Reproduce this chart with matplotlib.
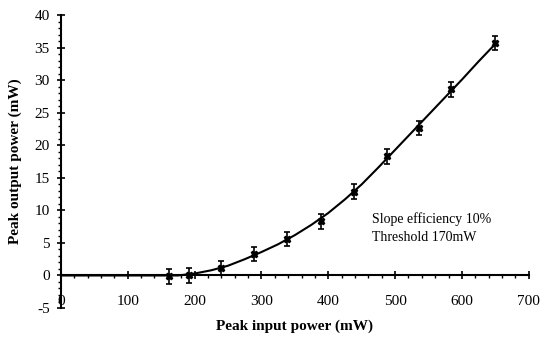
import matplotlib
matplotlib.use('Agg')
import matplotlib.pyplot as plt
from matplotlib.ticker import MultipleLocator

plt.rcParams['font.family'] = ['Liberation Serif', 'DejaVu Serif']
plt.rcParams['axes.unicode_minus'] = False

p_in = [162, 192, 240, 289, 338, 389, 438, 488, 536, 584, 650]
p_out = [-0.15, 0.0, 1.2, 3.3, 5.65, 8.3, 12.9, 18.3, 22.7, 28.6, 35.75]
p_err = [1.1] * len(p_in)

# fitted curve as drawn
fit_in = [0, 175, 200, 225, 250, 275, 300, 325, 350, 375, 400, 425, 450,
          475, 500, 525, 550, 575, 600, 625, 652]
fit_out = [0, 0, 0.3, 0.8, 1.5, 2.5, 3.6, 4.8, 6.2, 7.8, 9.6, 11.7, 14.0,
           16.6, 19.3, 22.0, 24.7, 27.4, 30.1, 32.9, 35.8]

x_ticks = [0, 100, 200, 300, 400, 500, 600, 700]
y_ticks = [-5, 0, 5, 10, 15, 20, 25, 30, 35, 40]

fig = plt.figure(figsize=(5.44, 3.37), dpi=100)
ax = fig.add_axes([0.112, 0.086, 0.860, 0.869])

ax.plot(fit_in, fit_out, color='black', lw=1.5)
ax.errorbar(p_in, p_out, yerr=p_err, fmt='X', color='black', ms=5,
            elinewidth=1.2, capsize=2, capthick=1.2)

ax.set_xlim(0, 700)
ax.set_ylim(-5, 40)
ax.set_xticks(x_ticks)
ax.set_yticks(y_ticks)
ax.xaxis.set_minor_locator(MultipleLocator(20))
ax.yaxis.set_minor_locator(MultipleLocator(1))

ax.spines['top'].set_visible(False)
ax.spines['right'].set_visible(False)
ax.spines['bottom'].set_position(('data', 0))
ax.spines['left'].set_linewidth(1.5)
ax.spines['bottom'].set_linewidth(1.5)

ax.tick_params(axis='x', which='major', direction='inout', length=6, width=1.2,
               pad=11, labelsize=11)
ax.tick_params(axis='x', which='minor', direction='out', length=2.5, width=1)
ax.tick_params(axis='y', which='major', direction='inout', length=6, width=1.2,
               pad=5, labelsize=11)
ax.tick_params(axis='y', which='minor', direction='out', length=2.5, width=1)

ax.set_xlabel('Peak input power (mW)', fontsize=11, fontweight='bold')
ax.xaxis.set_label_coords(0.5, -0.04)
ax.set_ylabel('Peak output power (mW)', fontsize=11, fontweight='bold', labelpad=9)

ax.text(465, 8.7, 'Slope efficiency 10%', fontsize=10, va='center')
ax.text(465, 5.9, 'Threshold 170mW', fontsize=10, va='center')

fig.savefig('out.png', dpi=100)
